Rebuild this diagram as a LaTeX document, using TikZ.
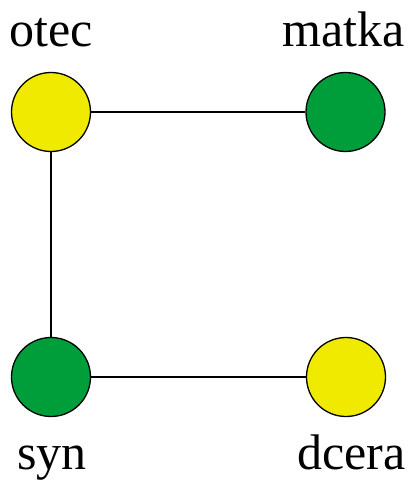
\documentclass[tikz,border=0pt]{standalone}
\usepackage{fontspec}
\setmainfont{Liberation Serif}
\definecolor{famyellow}{RGB}{240,234,0}
\definecolor{famgreen}{RGB}{0,158,59}
\begin{document}
\begin{tikzpicture}[x=1pt,y=-1pt,
  person/.style={circle,draw=black,line width=1.3pt,minimum size=79pt,inner sep=0pt},
  tie/.style={line width=1.3pt},
  label text/.style={anchor=base west,inner sep=0pt,font=\fontsize{50}{60}\selectfont}]
  \useasboundingbox (0,0) rectangle (410,481);
  % family members
  \node[person,fill=famyellow] (otec)  at (51,112) {};
  \node[person,fill=famgreen]  (matka) at (345.5,112) {};
  \node[person,fill=famgreen]  (syn)   at (51,377) {};
  \node[person,fill=famyellow] (dcera) at (346,377) {};
  % relations
  \draw[tie] (otec) -- (matka);
  \draw[tie] (otec) -- (syn);
  \draw[tie] (syn) -- (dcera);
  % names
  \node[label text] (totec)  at (9,47)   {otec};
  \node[label text] (tmatka) at (282,47) {matka};
  \node[label text] (tsyn)   at (17,469) {syn};
  \node[label text] (tdcera) at (297,469) {dcera};
\end{tikzpicture}
\end{document}
